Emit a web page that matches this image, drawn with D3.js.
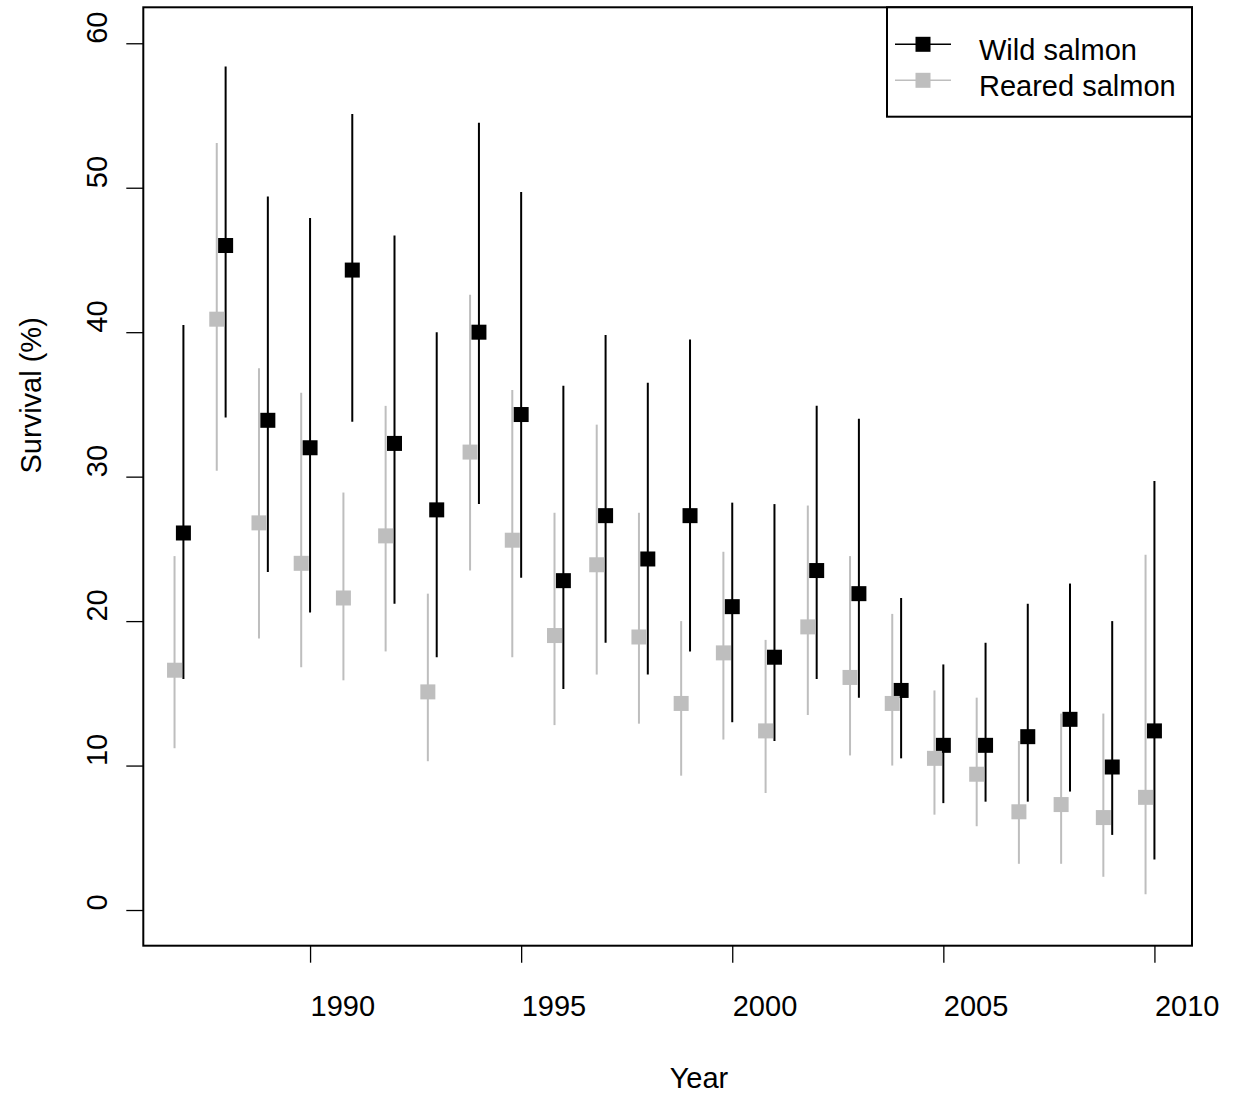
<!DOCTYPE html>
<html>
<head>
<meta charset="utf-8">
<script src="https://cdn.jsdelivr.net/npm/d3@7"></script>
<style>
  body { margin: 0; background: white; }
  text { font-family: "Liberation Sans", Arial, sans-serif; fill: black; }
</style>
</head>
<body>
<div id="chart"></div>
<script>
// ----- Data -------
const years = [1987, 1988, 1989, 1990, 1991, 1992, 1993, 1994, 1995, 1996, 1997, 1998,
               1999, 2000, 2001, 2002, 2003, 2004, 2005, 2006, 2007, 2008, 2009, 2010];

const wildMid  = [26.1, 46.0, 33.9, 32.0, 44.3, 32.3, 27.7, 40.0, 34.3, 22.8, 27.3, 24.3,
                  27.3, 21.0, 17.5, 23.5, 21.9, 15.2, 11.4, 11.4, 12.0, 13.2, 9.9, 12.4];
const wildLow  = [16.0, 34.1, 23.4, 20.6, 33.8, 21.2, 17.5, 28.1, 23.0, 15.3, 18.5, 16.3,
                  17.9, 13.0, 11.7, 16.0, 14.7, 10.5, 7.4, 7.5, 7.5, 8.2, 5.2, 3.5];
const wildHigh = [40.5, 58.4, 49.4, 47.9, 55.1, 46.7, 40.0, 54.5, 49.7, 36.3, 39.8, 36.5,
                  39.5, 28.2, 28.1, 34.9, 34.0, 21.6, 17.0, 18.5, 21.2, 22.6, 20.0, 29.7];

const rearedMid  = [16.6, 40.9, 26.8, 24.0, 21.6, 25.9, 15.1, 31.7, 25.6, 19.0, 23.9, 18.9,
                    14.3, 17.8, 12.4, 19.6, 16.1, 14.3, 10.5, 9.4, 6.8, 7.3, 6.4, 7.8];
const rearedLow  = [11.2, 30.4, 18.8, 16.8, 15.9, 17.9, 10.3, 23.5, 17.5, 12.8, 16.3, 12.9,
                    9.3, 11.8, 8.1, 13.5, 10.7, 10.0, 6.6, 5.8, 3.2, 3.2, 2.3, 1.1];
const rearedHigh = [24.5, 53.1, 37.5, 35.8, 28.9, 34.9, 21.9, 42.6, 36.0, 27.5, 33.6, 27.5,
                    20.0, 24.8, 18.7, 28.0, 24.5, 20.5, 15.2, 14.7, 11.7, 13.6, 13.6, 24.6];

const xTicks = [1990, 1995, 2000, 2005, 2010];
const yTicks = [0, 10, 20, 30, 40, 50, 60];
const legendLabels = ["Wild salmon", "Reared salmon"];

// ----- Setup -------
const svg = d3.select("#chart").append("svg").attr("width", 1233).attr("height", 1097);

const plotLeft = 143.3, plotRight = 1192, plotTop = 7.3, plotBottom = 945.7;
const x = d3.scaleLinear().domain([1986.05, 2010.89]).range([plotLeft, plotRight]);
const y = d3.scaleLinear().domain([-2.47, 62.49]).range([plotBottom, plotTop]);

const grey = "#bebebe";
const sq = 15;
const shift = 0.21; // reared points drawn a bit left of the year

// ----- Series -------
function drawSeries(mid, low, high, off, colour) {
  const g = svg.append("g");
  g.selectAll("line")
    .data(years)
    .join("line")
    .attr("x1", (d) => x(d + off))
    .attr("x2", (d) => x(d + off))
    .attr("y1", (d, i) => y(low[i]))
    .attr("y2", (d, i) => y(high[i]))
    .attr("stroke", colour)
    .attr("stroke-width", 2);
  g.selectAll("rect")
    .data(years)
    .join("rect")
    .attr("x", (d) => x(d + off) - sq / 2)
    .attr("y", (d, i) => y(mid[i]) - sq / 2)
    .attr("width", sq)
    .attr("height", sq)
    .attr("fill", colour);
}

drawSeries(wildMid, wildLow, wildHigh, 0, "black");
drawSeries(rearedMid, rearedLow, rearedHigh, -shift, grey);

// ----- Axes -------
const xAxis = svg.append("g")
  .attr("transform", `translate(0, ${plotBottom})`)
  .call(d3.axisBottom(x).tickValues(xTicks).tickSize(17).tickFormat(d3.format("d")));
xAxis.select(".domain").remove();
xAxis.selectAll("line").attr("stroke-width", 1.3);
xAxis.selectAll("text")
  .attr("text-anchor", "start")
  .attr("x", 0)
  .attr("y", 1016 - plotBottom)
  .attr("dy", 0)
  .style("font-size", "29px")
  .style("font-family", "'Liberation Sans', Arial, sans-serif");

const yAxis = svg.append("g")
  .attr("transform", `translate(${plotLeft}, 0)`)
  .call(d3.axisLeft(y).tickValues(yTicks).tickSize(17));
yAxis.select(".domain").remove();
yAxis.selectAll("line").attr("stroke-width", 1.3);
yAxis.selectAll("text")
  .attr("text-anchor", "start")
  .attr("transform", "rotate(-90)")
  .attr("x", 0)
  .attr("y", 107 - plotLeft)
  .attr("dy", 0)
  .style("font-size", "29px")
  .style("font-family", "'Liberation Sans', Arial, sans-serif");

// ----- Plot box -------
svg.append("rect")
  .attr("x", plotLeft)
  .attr("y", plotTop)
  .attr("width", plotRight - plotLeft)
  .attr("height", plotBottom - plotTop)
  .attr("fill", "none")
  .attr("stroke", "black")
  .attr("stroke-width", 2);

// ----- Axis titles -------
svg.append("text")
  .attr("x", (plotLeft + plotRight) / 2 + 2)
  .attr("y", 1088)
  .style("font-size", "29px")
  .text("Year");

svg.append("text")
  .attr("transform", `translate(41, ${(plotTop + plotBottom) / 2 - 3}) rotate(-90)`)
  .style("font-size", "29px")
  .text("Survival (%)");

// ----- Legend -------
svg.append("rect")
  .attr("x", 887)
  .attr("y", plotTop)
  .attr("width", plotRight - 887)
  .attr("height", 116.7 - plotTop)
  .attr("fill", "white")
  .attr("stroke", "black")
  .attr("stroke-width", 2);

const legendColours = ["black", grey];
const legendY = [44.3, 80.3];

legendLabels.forEach((label, i) => {
  svg.append("line")
    .attr("x1", 895)
    .attr("x2", 951)
    .attr("y1", legendY[i])
    .attr("y2", legendY[i])
    .attr("stroke", legendColours[i])
    .attr("stroke-width", 1.5);
  svg.append("rect")
    .attr("x", 923 - sq / 2)
    .attr("y", legendY[i] - sq / 2)
    .attr("width", sq)
    .attr("height", sq)
    .attr("fill", legendColours[i]);
  svg.append("text")
    .attr("x", 979)
    .attr("y", legendY[i] + 15.5)
    .style("font-size", "29px")
    .text(label);
});
</script>
</body>
</html>
